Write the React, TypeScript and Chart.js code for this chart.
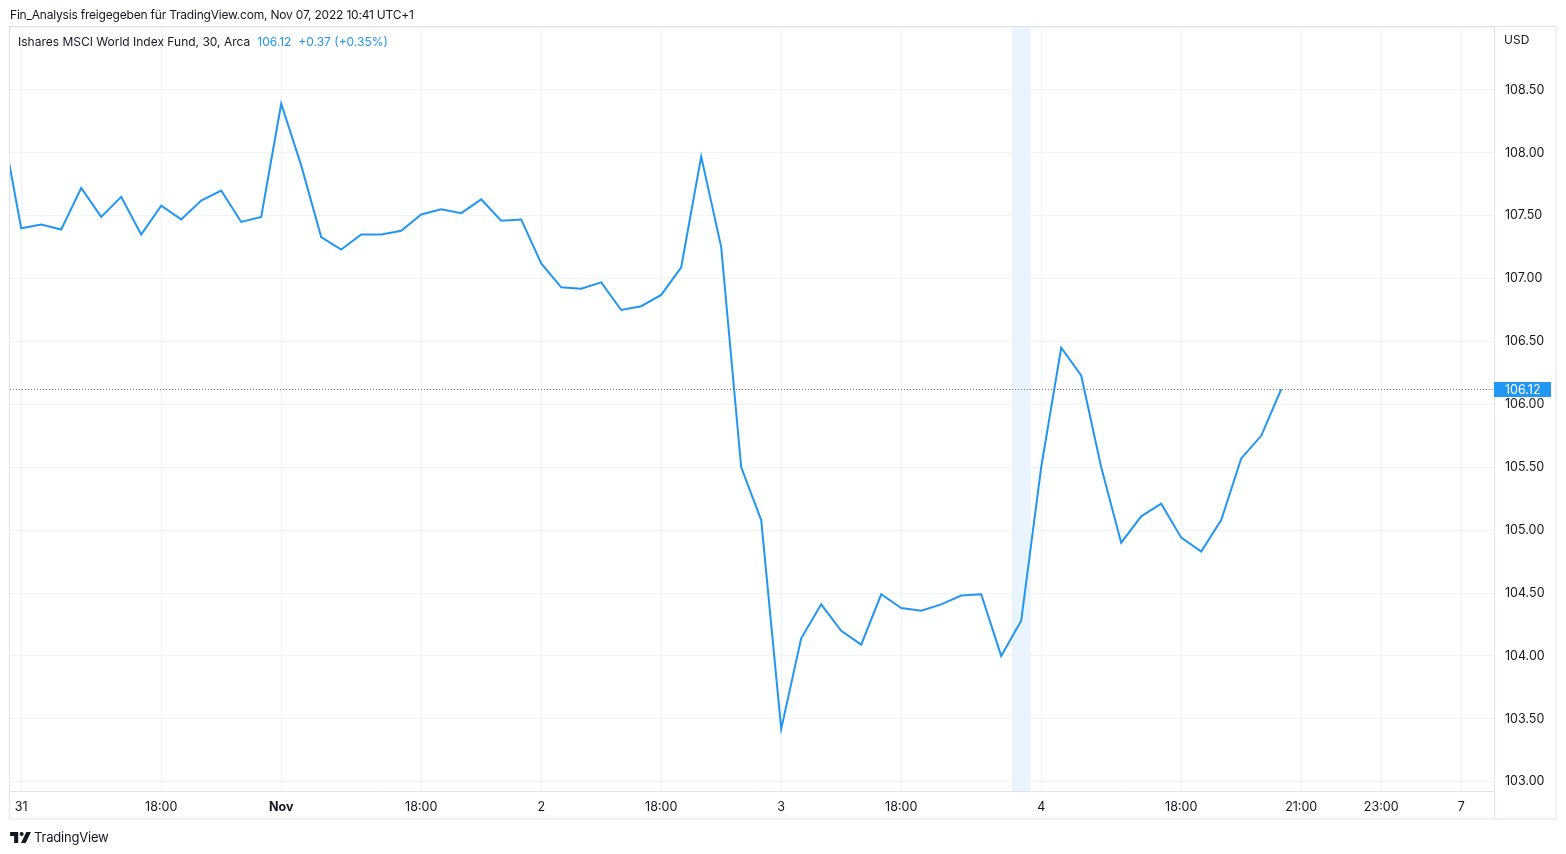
import React, { useEffect, useRef } from "react";
import { Chart, registerables } from "chart.js";

Chart.register(...registerables);

// Price series (30-minute closes), index -1 .. 63
const prices: number[] = [
  108.26, 107.40, 107.43, 107.39, 107.72, 107.49, 107.65, 107.35, 107.58, 107.47,
  107.62, 107.70, 107.45, 107.49, 108.39, 107.90, 107.33, 107.23, 107.35, 107.35,
  107.38, 107.51, 107.55, 107.52, 107.63, 107.46, 107.47, 107.12, 106.93, 106.92,
  106.97, 106.75, 106.78, 106.87, 107.09, 107.97, 107.25, 105.50, 105.08, 103.42,
  104.14, 104.41, 104.20, 104.09, 104.49, 104.38, 104.36, 104.41, 104.48, 104.49,
  104.00, 104.28, 105.50, 106.45, 106.23, 105.50, 104.90, 105.11, 105.21, 104.94,
  104.83, 105.08, 105.57, 105.75, 106.12,
];
const firstIndex = -1;

// Time axis ticks (bar index -> label)
const xTickIndices: number[] = [0, 7, 13, 20, 26, 32, 38, 44, 51, 58, 64, 68, 72];
const xTickLabels: string[] = ["31", "18:00", "Nov", "18:00", "2", "18:00", "3", "18:00", "4", "18:00", "21:00", "23:00", "7"];

// Price axis ticks
const yTicks: number[] = [103, 103.5, 104, 104.5, 105, 105.5, 106, 106.5, 107, 107.5, 108, 108.5, 109];

const lastPrice = 106.12;
const sessionBand: number[] = [49.53, 50.48];

const FONT = "-apple-system, BlinkMacSystemFont, 'Trebuchet MS', Inter, Roboto, sans-serif";
const TEXT = "#131722";
const BLUE = "#2196f3";
const GRID = "#f0f3fa";
const BORDER = "#e0e3eb";

const overlayPlugin = {
  id: "tvOverlay",
  beforeDatasetsDraw(chart: any) {
    const { ctx, chartArea, scales } = chart;
    const x = scales.x;
    const x0 = x.getPixelForValue(sessionBand[0]);
    const x1 = x.getPixelForValue(sessionBand[1]);
    ctx.save();
    ctx.fillStyle = "#eaf4fe";
    ctx.fillRect(x0, chartArea.top, x1 - x0, chartArea.bottom - chartArea.top);
    ctx.restore();
  },
  afterDraw(chart: any) {
    const { ctx, chartArea, scales } = chart;
    const y = scales.y;
    const py = Math.round(y.getPixelForValue(lastPrice)) + 0.5;
    ctx.save();
    // dotted last price line
    ctx.strokeStyle = "#787b86";
    ctx.lineWidth = 1;
    ctx.setLineDash([1, 2]);
    ctx.beginPath();
    ctx.moveTo(chartArea.left, py);
    ctx.lineTo(chartArea.right, py);
    ctx.stroke();
    ctx.setLineDash([]);
    // outer frame
    ctx.strokeStyle = BORDER;
    ctx.lineWidth = 1;
    ctx.strokeRect(chartArea.left - 0.5, chartArea.top - 0.5, 1556 - chartArea.left + 0.5, 819 - chartArea.top + 0.5);
    // bottom-right corner separator
    ctx.beginPath();
    ctx.moveTo(chartArea.right + 0.5, chartArea.bottom);
    ctx.lineTo(chartArea.right + 0.5, 819);
    ctx.stroke();
    // price label box
    ctx.fillStyle = BLUE;
    ctx.fillRect(chartArea.right, py - 7.5, 57, 15);
    ctx.fillStyle = "#ffffff";
    ctx.font = `12.5px ${FONT}`;
    ctx.textBaseline = "middle";
    ctx.textAlign = "left";
    ctx.fillText(lastPrice.toFixed(2), chartArea.right + 11, py + 0.5);
    // currency
    ctx.fillStyle = TEXT;
    ctx.font = `12px ${FONT}`;
    ctx.fillText("USD", chartArea.right + 10, 40.5);
    ctx.restore();
  },
};

function App() {
  const ref = useRef<HTMLCanvasElement | null>(null);

  useEffect(() => {
    if (!ref.current) return;
    const data = prices.map((v, i) => ({ x: i + firstIndex, y: v }));
    const chart = new Chart(ref.current, {
      type: "line",
      data: {
        datasets: [
          {
            data,
            borderColor: BLUE,
            borderWidth: 2,
            pointRadius: 0,
            tension: 0,
            fill: false,
            clip: 0,
          } as any,
        ],
      },
      options: {
        animation: false,
        responsive: false,
        devicePixelRatio: 1,
        layout: { padding: { left: 10, top: 27, right: 10, bottom: 35 } },
        plugins: { legend: { display: false }, tooltip: { enabled: false } },
        scales: {
          x: {
            type: "linear",
            min: -0.56,
            max: 73.64,
            afterBuildTicks: (s: any) => {
              s.ticks = xTickIndices.map((v) => ({ value: v }));
            },
            afterFit: (s: any) => {
              s.height = 28;
            },
            grid: { color: GRID, drawTicks: false, lineWidth: 1 },
            border: { display: true, color: BORDER },
            ticks: {
              autoSkip: false,
              maxRotation: 0,
              padding: 9,
              color: TEXT,
              font: (c: any) => ({
                family: FONT,
                size: 12.5,
                weight: xTickLabels[xTickIndices.indexOf(c.tick?.value)] === "Nov" ? "bold" : "normal",
              }),
              callback: (v: any) => {
                const k = xTickIndices.indexOf(Number(v));
                return k >= 0 ? xTickLabels[k] : "";
              },
            },
          },
          y: {
            type: "linear",
            position: "right",
            min: 102.926,
            max: 109.0,
            afterBuildTicks: (s: any) => {
              s.ticks = yTicks.map((v) => ({ value: v }));
            },
            afterFit: (s: any) => {
              s.width = 62;
            },
            grid: { color: GRID, drawTicks: false, lineWidth: 1 },
            border: { display: true, color: BORDER },
            ticks: {
              padding: 11,
              color: TEXT,
              font: { family: FONT, size: 12.5 },
              callback: (v: any) => (Number(v) >= 108.9 ? "" : Number(v).toFixed(2)),
            },
          },
        },
      },
      plugins: [overlayPlugin],
    });
    return () => chart.destroy();
  }, []);

  const textStyle: React.CSSProperties = {
    position: "absolute",
    fontFamily: FONT,
    color: TEXT,
    whiteSpace: "nowrap",
    lineHeight: "16px",
  };

  return (
    <div style={{ position: "fixed", left: 0, top: 0, width: 1566, height: 854, background: "#fff", overflow: "hidden" }}>
      <canvas ref={ref} width={1566} height={854} style={{ position: "absolute", left: 0, top: 0, width: 1566, height: 854 }} />
      <div style={{ ...textStyle, left: 10, top: 7, fontSize: 12, letterSpacing: "-0.2px" }}>
        Fin_Analysis freigegeben für TradingView.com, Nov 07, 2022 10:41 UTC+1
      </div>
      <div style={{ ...textStyle, left: 18, top: 34, fontSize: 12 }}>
        Ishares MSCI World Index Fund, 30, Arca
        <span style={{ color: BLUE, marginLeft: 7 }}>106.12</span>
        <span style={{ color: BLUE, marginLeft: 7 }}>+0.37 (+0.35%)</span>
      </div>
      <div style={{ ...textStyle, left: 10, top: 829, fontSize: 13, letterSpacing: "-0.2px", display: "flex", alignItems: "center" }}>
        <svg width="21" height="11" viewBox="0 0 36 19" style={{ marginRight: 3 }}>
          <path d="M0 0 H14 V19 H7 V7 H0 Z" fill={TEXT} />
          <circle cx="20" cy="3.5" r="3.5" fill={TEXT} />
          <path d="M28 0 H36 L27 19 H19 Z" fill={TEXT} />
        </svg>
        TradingView
      </div>
    </div>
  );
}

export default App;
